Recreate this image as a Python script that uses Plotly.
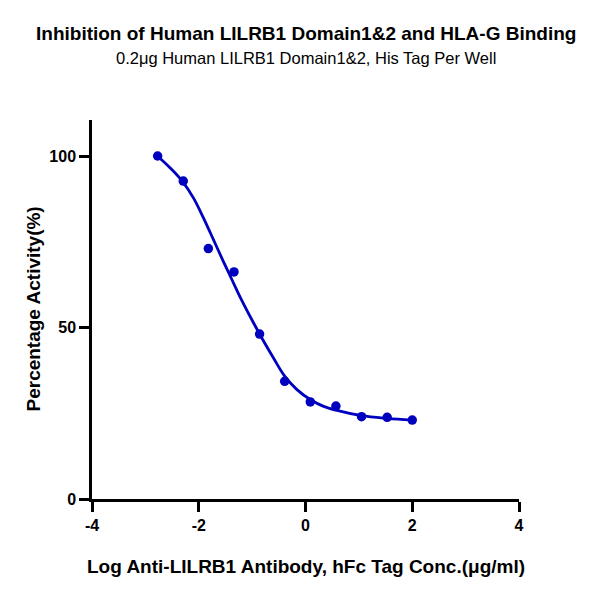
import plotly.graph_objects as go

# measured points (log conc, % activity)
log_conc = [-2.77, -2.29, -1.82, -1.34, -0.86, -0.39, 0.09, 0.57, 1.05, 1.53, 2.00]
activity = [100.0, 92.7, 73.0, 66.2, 48.1, 34.3, 28.3, 27.1, 24.0, 23.8, 23.0]

# fitted curve
curve_x = [-2.775, -2.54, -2.31, -2.10, -1.91, -1.725, -1.54, -1.38, -1.22, -0.86,
           -0.60, -0.39, -0.16, 0.09, 0.34, 0.57, 1.05, 1.53, 2.00]
curve_y = [100.0, 96.6, 92.7, 87.8, 81.9, 75.6, 69.3, 64.0, 58.7, 48.1,
           41.1, 35.8, 31.9, 29.0, 27.0, 25.9, 24.3, 23.5, 23.0]

x_ticks = [-4, -2, 0, 2, 4]
x_labels = ["-4", "-2", "0", "2", "4"]
y_ticks = [0, 50, 100]

blue = "#0000BF"
font = "Liberation Sans, Arial, sans-serif"

fig = go.Figure()
fig.add_trace(go.Scatter(x=curve_x, y=curve_y, mode="lines",
                         line=dict(color=blue, width=2.8, shape="spline"),
                         showlegend=False, hoverinfo="skip"))
fig.add_trace(go.Scatter(x=log_conc, y=activity, mode="markers",
                         marker=dict(color=blue, size=9.5),
                         showlegend=False))

axis_style = dict(showgrid=False, zeroline=False, showline=True,
                  linecolor="black", linewidth=2.5,
                  ticks="outside", ticklen=10, tickwidth=2.5, tickcolor="black",
                  tickfont=dict(family=font, size=16, color="black", weight="bold"))

fig.update_xaxes(range=[-4, 4], tickvals=x_ticks, ticktext=x_labels, **axis_style)
fig.update_yaxes(range=[0, 110.5], tickvals=y_ticks, **axis_style)

# page has an 8px body margin, so margins are shifted by that
fig.update_layout(
    width=600, height=600,
    margin=dict(l=84, r=89, t=112, b=109),
    plot_bgcolor="white", paper_bgcolor="white",
    annotations=[
        dict(text="<b>Inhibition of Human LILRB1 Domain1&2 and HLA-G Binding</b>",
             xref="paper", yref="paper", x=0.5, y=1.0, yshift=87,
             xanchor="center", yanchor="middle",
             showarrow=False, font=dict(family=font, size=19, color="black")),
        dict(text="0.2μg Human LILRB1 Domain1&2, His Tag Per Well",
             xref="paper", yref="paper", x=0.5, y=1.0, yshift=62,
             xanchor="center", yanchor="middle",
             showarrow=False, font=dict(family=font, size=16.5, color="black")),
        dict(text="<b>Log Anti-LILRB1 Antibody, hFc Tag Conc.(μg/ml)</b>",
             xref="paper", yref="paper", x=0.5, y=0, yshift=-67,
             xanchor="center", yanchor="middle",
             showarrow=False, font=dict(family=font, size=19, color="black")),
        dict(text="<b>Percentage Activity(%)</b>",
             xref="paper", yref="paper", x=0, y=0.5, xshift=-59, yshift=0,
             xanchor="center", yanchor="middle",
             textangle=-90, showarrow=False,
             font=dict(family=font, size=19, color="black")),
    ],
)

fig.write_html("out.html")
